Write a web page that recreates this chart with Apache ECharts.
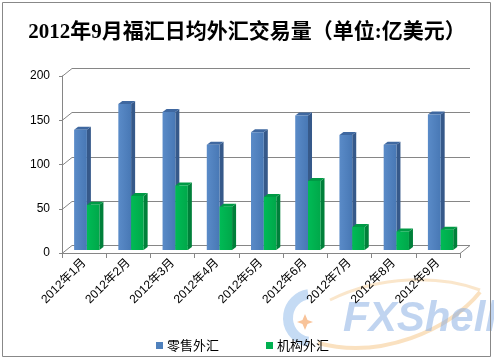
<!DOCTYPE html>
<html><head><meta charset="utf-8">
<script src="https://cdn.jsdelivr.net/npm/echarts@6/dist/echarts.min.js"></script>
<style>html,body{margin:0;padding:0;background:#fff}#c{width:494px;height:361px}</style>
</head><body><div id="c"></div>
<script>
const categories = ['2012年1月','2012年2月','2012年3月','2012年4月','2012年5月','2012年6月','2012年7月','2012年8月','2012年9月'];
const retail = [136, 165, 156, 119, 133, 152, 130, 119, 153];
const institutional = [51, 61, 73, 49, 60, 78, 26, 21, 23];
const yTicks = [0, 50, 100, 150, 200];
const seriesNames = ['零售外汇', '机构外汇'];

const chart = echarts.init(document.getElementById('c'), null, {renderer: 'canvas'});
const gridColor = '#868686';
const labelFont = '"Liberation Sans","Noto Sans CJK SC",sans-serif';

const palettes = [
  {front: ['#5a8bc8', '#4878b5'], side: '#36598a', top: '#3f68a0', legend: '#4f81bd'},
  {front: ['#00bb55', '#00a84a'], side: '#00803a', top: '#009a45', legend: '#00b050'}
];

function barRenderer(which) {
  const pal = palettes[which];
  return function (params, api) {
    const i = api.value(0), v = api.value(1);
    const base = api.coord([i, 0]);
    const top = api.coord([i, v]);
    const bw = api.size([1, 0])[0];
    const c = base[0];
    const l = which === 0 ? c - 0.226 * bw : c + 0.063 * bw;
    const r = which === 0 ? c + 0.063 * bw : c + 0.346 * bw;
    const yb = base[1] - 3, yt = top[1] - 3;
    const dx = 4, dy = -3;
    return {type: 'group', children: [
      {type: 'polygon', shape: {points: [[r, yb], [r + dx, yb + dy], [r + dx, yt + dy], [r, yt]]}, style: {fill: pal.side}},
      {type: 'polygon', shape: {points: [[l, yt], [l + dx, yt + dy], [r + dx, yt + dy], [r, yt]]}, style: {fill: pal.top}},
      {type: 'rect', shape: {x: l, y: yt, width: r - l, height: yb - yt},
        style: {fill: new echarts.graphic.LinearGradient(0, 0, 1, 0, [{offset: 0, color: pal.front[0]}, {offset: 1, color: pal.front[1]}])}}
    ]};
  };
}

function depthRenderer(params, api) {
  const v = api.value(1);
  const p = api.coord([0, v]);
  const bw = api.size([1, 0])[0];
  const left = p[0] - bw / 2;
  const right = left + categories.length * bw;
  const y = Math.round(p[1]) + 0.5;
  const yb = y - 8;
  const children = [
    {type: 'line', shape: {x1: left, y1: y, x2: left + 10, y2: yb}, style: {stroke: gridColor, lineWidth: 1}},
    {type: 'rect', shape: {x: left + 10, y: yb - 0.5, width: right - left, height: 1}, style: {fill: gridColor}}
  ];
  if (v === 0) {
    children.push({type: 'line', shape: {x1: right, y1: y, x2: right + 10, y2: yb}, style: {stroke: gridColor, lineWidth: 1}});
  }
  return {type: 'group', children: children};
}

const option = {
  animation: false,
  backgroundColor: '#fff',
  title: {
    text: '2012年9月福汇日均外汇交易量（单位:亿美元）',
    left: 'center', top: 22, padding: 0,
    textStyle: {fontSize: 21, fontWeight: 'bold', color: '#000', fontFamily: '"Liberation Serif","Noto Sans CJK SC",serif'}
  },
  legend: {
    data: seriesNames, left: 156, top: 339, padding: 0,
    icon: 'rect', itemWidth: 7, itemHeight: 7, itemGap: 47,
    textStyle: {fontSize: 13, color: '#000', fontFamily: '"Noto Sans CJK SC",sans-serif', padding: [0, 0, 0, -1]}
  },
  grid: [
    {left: 62, right: 34, top: 76, bottom: 108}
  ],
  xAxis: [
    {type: 'category', gridIndex: 0, data: categories, boundaryGap: true,
      axisLine: {show: true, lineStyle: {color: gridColor}},
      axisTick: {show: true, length: 5, lineStyle: {color: gridColor}},
      axisLabel: {rotate: 45, interval: 0, margin: 8, fontSize: 12, color: '#000', fontFamily: labelFont},
      splitLine: {show: false}}
  ],
  yAxis: [
    {type: 'value', gridIndex: 0, min: 0, max: 200, interval: 50,
      axisLine: {show: true, lineStyle: {color: gridColor}},
      axisTick: {show: true, length: 3, lineStyle: {color: gridColor}},
      axisLabel: {margin: 12, fontSize: 12, color: '#000', fontFamily: labelFont},
      splitLine: {show: false}}
  ],
  graphic: [
    {type: 'rect', z: 100, silent: true, shape: {x: 2.5, y: 2.5, width: 488, height: 354}, style: {fill: 'none', stroke: '#888', lineWidth: 1}},
    {type: 'arc', z: -1, silent: true, shape: {cx: 312, cy: 318, r: 24, startAngle: Math.PI * 0.55, endAngle: Math.PI * 1.45}, style: {stroke: 'rgba(150,190,235,0.55)', lineWidth: 10, fill: 'none'}},
    {type: 'polygon', z: -1, silent: true, shape: {points: [[305, 314], [307.5, 320], [313, 322], [307.5, 324], [305, 330], [302.5, 324], [297, 322], [302.5, 320]]}, style: {fill: 'rgba(245,170,110,0.7)'}},
    {type: 'bezierCurve', z: -1, silent: true, shape: {x1: 318, y1: 343, x2: 480, y2: 292, cpx1: 380, cpy1: 360, cpx2: 450, cpy2: 330}, style: {stroke: 'rgba(245,200,140,0.55)', lineWidth: 4, fill: 'none'}},
    {type: 'bezierCurve', z: -1, silent: true, shape: {x1: 330, y1: 300, x2: 480, y2: 290, cpx1: 380, cpy1: 275, cpx2: 440, cpy2: 275}, style: {stroke: 'rgba(245,200,140,0.45)', lineWidth: 3, fill: 'none'}},
    {type: 'text', z: -1, silent: true, left: 343, top: 298, style: {text: 'FXShell', font: 'italic bold 42px "Liberation Sans",sans-serif', fill: 'rgba(130,170,225,0.5)'}}
  ],
  series: [
    {type: 'custom', name: 'depth', xAxisIndex: 0, yAxisIndex: 0, silent: true, renderItem: depthRenderer, clip: false,
      data: yTicks.map(v => [0, v]), encode: {x: 0, y: 1}, z: 1},
    {type: 'custom', name: seriesNames[0], xAxisIndex: 0, yAxisIndex: 0, renderItem: barRenderer(0),
      itemStyle: {color: palettes[0].legend},
      data: retail.map((v, i) => [i, v]), encode: {x: 0, y: 1}, z: 2},
    {type: 'custom', name: seriesNames[1], xAxisIndex: 0, yAxisIndex: 0, renderItem: barRenderer(1),
      itemStyle: {color: palettes[1].legend},
      data: institutional.map((v, i) => [i, v]), encode: {x: 0, y: 1}, z: 3}
  ]
};
chart.setOption(option);
</script>
</body></html>
